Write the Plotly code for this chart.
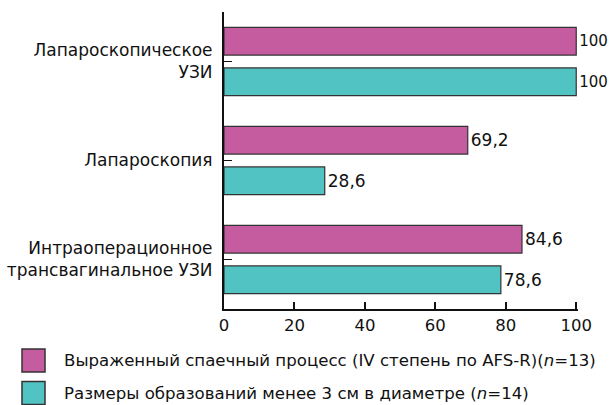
import plotly.graph_objects as go

categories = ["Лапароскопическое<br>УЗИ", "Лапароскопия", "Интраоперационное<br>трансвагинальное УЗИ"]
series_names = [
    "Выраженный спаечный процесс (IV степень по AFS-R)(<i>n</i>=13)",
    "Размеры образований менее 3 см в диаметре (<i>n</i>=14)",
]
adhesions = [100, 69.2, 84.6]
small_size = [100, 28.6, 78.6]
x_ticks = [0, 20, 40, 60, 80, 100]

colors = ["#C45C9F", "#52C3C3"]
FONT = "DejaVu Sans, sans-serif"

def fmt(v):
    s = f"{v:g}"
    return s.replace(".", ",")

def label_size(v):
    # full-width bars sit against the right edge; their labels are a bit smaller
    return 15 if v >= 100 else 17

fig = go.Figure()
for name, vals, col, off in [(series_names[0], adhesions, colors[0], -0.345),
                             (series_names[1], small_size, colors[1], 0.065)]:
    fig.add_trace(go.Bar(
        y=categories, x=vals, orientation="h", name=name,
        marker=dict(color=col, line=dict(color="#333333", width=1.2)),
        width=0.28, offset=off,
        text=[fmt(v) for v in vals], textposition="outside",
        textfont=dict(size=[label_size(v) for v in vals], color="#111111", family=FONT),
        cliponaxis=False, showlegend=False,
    ))

fig.update_layout(
    width=610, height=405,
    margin=dict(l=224, r=32, t=12, b=96),
    plot_bgcolor="white", paper_bgcolor="white",
    barmode="overlay",
    font=dict(family=FONT, size=17, color="#111111"),
    xaxis=dict(range=[0, 100.5], tickvals=x_ticks, ticktext=[str(t) for t in x_ticks],
               showgrid=False, zeroline=False, showline=True, linecolor="#111111", linewidth=2,
               ticks="inside", ticklen=7, tickwidth=1.5, tickcolor="#111111",
               tickfont=dict(size=16.5), automargin=False, fixedrange=True),
    yaxis=dict(range=[2.5, -0.5], showgrid=False, zeroline=False, showline=True,
               linecolor="#111111", linewidth=2, ticks="inside", ticklen=8, tickwidth=1.2,
               tickcolor="#111111", tickfont=dict(size=17), ticklabelstandoff=6,
               automargin=False),
)

# legend drawn manually
leg_y = [360.5, 393]
for i, (name, col) in enumerate(zip(series_names, colors)):
    fig.add_shape(type="rect", xref="paper", yref="paper",
                  x0=(22 - 224) / 354, x1=(45 - 224) / 354,
                  y0=(405 - 96 - (leg_y[i] + 11.5)) / 297, y1=(405 - 96 - (leg_y[i] - 11.5)) / 297,
                  fillcolor=col, line=dict(color="#333333", width=1.5))
    fig.add_annotation(xref="paper", yref="paper", x=(62 - 224) / 354,
                       y=(405 - 96 - leg_y[i]) / 297, text=name, showarrow=False,
                       xanchor="left", yanchor="middle", font=dict(size=16.6, family=FONT))

fig.write_html("out.html")
